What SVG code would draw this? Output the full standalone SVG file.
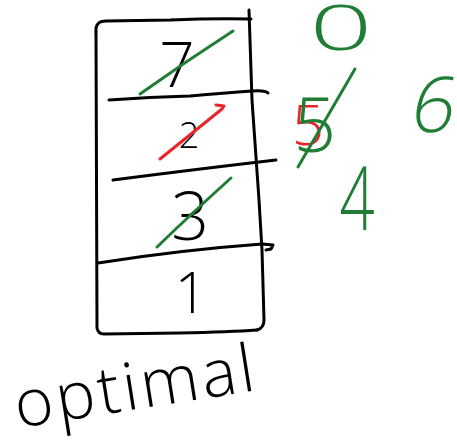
<svg xmlns="http://www.w3.org/2000/svg" width="457" height="445" viewBox="0 0 457 445">
<style>
.ink{fill:none;stroke:#000;stroke-width:3;stroke-linecap:round;stroke-linejoin:round}
.g{fill:none;stroke:#1f7d34;stroke-width:3;stroke-linecap:round;stroke-linejoin:round}
.r{fill:none;stroke:#e8242a;stroke-width:3;stroke-linecap:round;stroke-linejoin:round}
.t{font-family:"Open Sans","Liberation Sans",sans-serif;font-weight:300;text-anchor:middle}
.tk{fill:#000}
.tg{fill:#1f7d34}
.tr{fill:#e8242a}
</style>
<rect width="457" height="445" fill="#fff"/>
<g id="stack">
<path class="ink" d="M96,32 Q95,21 106,21 L170,20 Q215,18 251,19"/>
<path class="ink" d="M249,10 L252,100 L259,200 L262,250 L264,320 Q264,328 257,330"/>
<path class="ink" d="M96,32 L97,328 Q98,334 104,334 L180,333 Q230,332 257,330"/>
<path class="ink" d="M109,100 Q150,97 190,96 Q225,93 252,91 Q265,90 268,93"/>
<path class="ink" d="M113,180 Q190,170 276,160"/>
<path class="ink" d="M98,263 Q180,250 262,244 L273,245 L271,249 L266,250"/>
</g>
<g id="slot7">
<text class="t tk" x="177" y="87" font-size="62">7</text>
<path class="g" d="M140,94 Q185,62 233,31"/>
</g>
<g id="slot2">
<text class="t tk" x="189" y="148" font-size="36">2</text>
<path class="r" d="M160,159 L222,109 L224,106 L216,105"/>
</g>
<g id="slot3">
<text class="t tk" x="190" y="240" font-size="66">3</text>
<path class="g" d="M157,247 Q190,215 231,178"/>
</g>
<g id="slot1">
<text class="t tk" x="191" y="313" font-size="57">1</text>
</g>
<g id="n0">
<text class="t tg" transform="translate(341,50) scale(1.75,1)" x="0" y="0" font-size="63">0</text>
</g>
<g id="n5">
<text class="t tr" x="308" y="145" font-size="56">5</text>
<text class="t tg" x="315" y="152" font-size="75">5</text>
<path class="g" d="M298,167 L355,69"/>
</g>
<g id="n6">
<text class="t tg" transform="translate(430,132) skewX(-10)" x="0" y="0" font-size="77">6</text>
</g>
<g id="n4">
<text class="t tg" transform="translate(357,230) scale(0.7,1)" x="0" y="0" font-size="88">4</text>
</g>
<g id="label">
<text class="t tk" style="text-anchor:start" transform="translate(18,428) rotate(-9)" x="0" y="0" font-size="66" textLength="242" lengthAdjust="spacing">optimal</text>
</g>
</svg>
